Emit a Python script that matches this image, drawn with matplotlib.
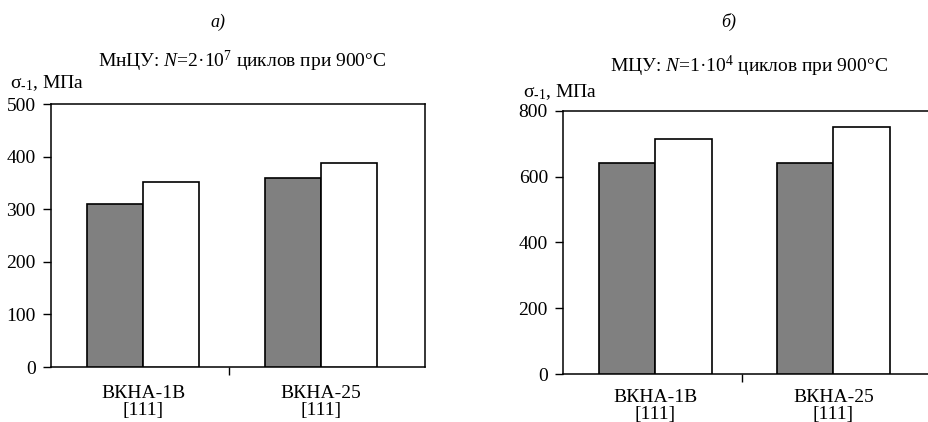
import numpy as np
import matplotlib
matplotlib.use("Agg")
import matplotlib.pyplot as plt

# Data
categories = ["ВКНА-1В\n[111]", "ВКНА-25\n[111]"]
left_gray = [310, 360]
left_white = [352, 389]
right_gray = [640, 640]
right_white = [713, 750]

plt.rcParams["font.family"] = ["Liberation Serif", "DejaVu Serif"]
plt.rcParams["mathtext.fontset"] = "custom"
plt.rcParams["mathtext.rm"] = "Liberation Serif"
plt.rcParams["mathtext.it"] = "Liberation Serif:italic"
plt.rcParams["font.size"] = 14

fig = plt.figure(figsize=(9.29, 4.22), dpi=100)
ax1 = fig.add_axes([0.0549, 0.1303, 0.4026, 0.6225])
ax2 = fig.add_axes([0.6063, 0.1137, 0.4026, 0.624])

x = np.arange(len(categories))
w = 0.316


def draw(ax, gray, white, ymax, step, pad):
    ax.bar(x - w / 2, gray, w, color="#808080", edgecolor="black", linewidth=1.2, zorder=3)
    ax.bar(x + w / 2, white, w, color="white", edgecolor="black", linewidth=1.2, zorder=3)
    ax.set_xlim(-0.517, 1.584)
    ax.set_ylim(0, ymax)
    ax.set_yticks(np.arange(0, ymax + 1, step))
    ax.tick_params(axis="y", direction="out", length=6, width=1, pad=5, labelsize=14)
    # one tick between the categories, labels under the bar groups
    ax.set_xticks([0.485])
    ax.set_xticklabels([""])
    ax.tick_params(axis="x", which="major", direction="out", length=6, width=1)
    ax.set_xticks(x, minor=True)
    ax.set_xticklabels(categories, minor=True, linespacing=1.0)
    ax.tick_params(axis="x", which="minor", length=0, pad=pad, labelsize=14)
    for s in ax.spines.values():
        s.set_linewidth(1.1)


draw(ax1, left_gray, left_white, 500, 100, 13)
draw(ax2, right_gray, right_white, 800, 200, 11)

fig.text(242 / 929, 1 - 61 / 422, r"МнЦУ: $\mathit{N}$=2·10$^7$ циклов при 900°C",
         ha="center", va="center", fontsize=14)
fig.text(749 / 929, 1 - 66 / 422, r"МЦУ: $\mathit{N}$=1·10$^4$ циклов при 900°C",
         ha="center", va="center", fontsize=14)
fig.text(10 / 929, 1 - 83 / 422, "σ$_{\u20101}$, МПа", ha="left", va="center", fontsize=14)
fig.text(523 / 929, 1 - 92 / 422, "σ$_{\u20101}$, МПа", ha="left", va="center", fontsize=14)
fig.text(218 / 929, 1 - 22 / 422, "а)", style="italic", ha="center", va="center", fontsize=13)
fig.text(729 / 929, 1 - 22 / 422, "б)", style="italic", ha="center", va="center", fontsize=13)

fig.savefig("out.png", dpi=100)
